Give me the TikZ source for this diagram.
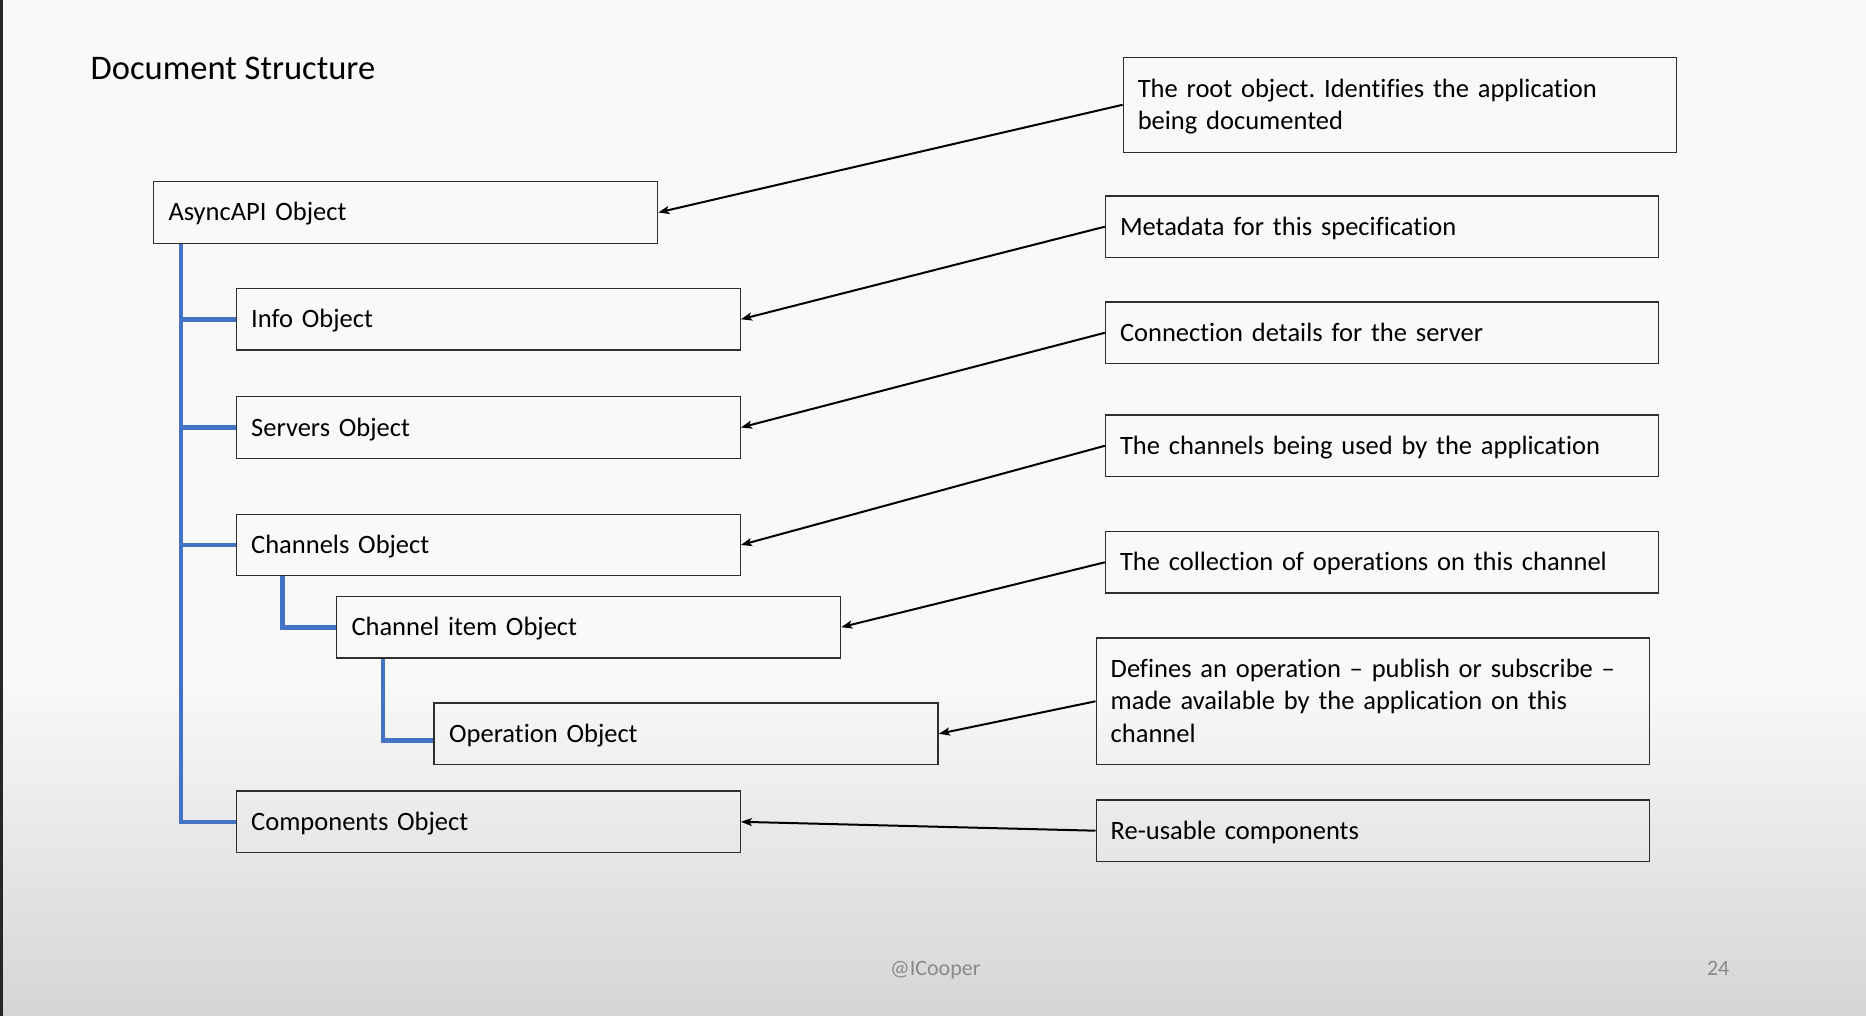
\documentclass[tikz,border=0pt]{standalone}
\usepackage{fontspec}
\setmainfont{Carlito}[Ligatures=NoCommon]
\usetikzlibrary{arrows.meta,calc}
\definecolor{treeblue}{HTML}{4472C4}
\definecolor{bgtop}{HTML}{F9F9F8}
\definecolor{bgbot}{HTML}{D5D5D5}
\definecolor{boxline}{HTML}{2E2E2E}
\definecolor{footgray}{HTML}{8A8A8A}
\frenchspacing
\begin{document}
\begin{tikzpicture}[x=1pt,y=-1pt,
  obj/.style={draw=boxline, line width=1.4pt, rectangle, minimum width=504pt, minimum height=61.5pt,
    text width=474pt, inner xsep=15pt, inner ysep=0pt, text height=17pt, text depth=0pt, align=left,
    font=\fontsize{26.5}{32.5}\selectfont},
  desc/.style={obj, minimum width=553pt, text width=524pt, inner xsep=14.5pt},
  arr/.style={draw=black, line width=2pt, -{Stealth[length=11pt,width=8pt,inset=2.5pt]}},
  tree/.style={draw=treeblue, line width=4.6pt}
]
\useasboundingbox (0,0) rectangle (1866,1016);
% background
\fill[bgtop] (0,0) rectangle (1866,680);
\shade[top color=bgtop, bottom color=bgbot] (0,680) rectangle (1866,1016);
\fill[black!85] (0,0) rectangle (3,1016);

% title
\node[anchor=base west, inner sep=0pt, font=\fontsize{34.5}{40}\selectfont] (title) at (90.5,80) {Document Structure};

% object boxes
\node[obj] (async)   at (405.5,212.5) {AsyncAPI Object};
\node[obj] (info)    at (488.2,319.3) {Info Object};
\node[obj] (servers) at (488.2,427.5) {Servers Object};
\node[obj] (chan)    at (488.2,545.0) {Channels Object};
\node[obj] (chitem)  at (588.5,627.2) {Channel item Object};
\node[obj] (oper)    at (686.1,733.8) {Operation Object};
\node[obj] (comp)    at (488.2,821.8) {Components Object};

% description boxes
\node[desc, minimum height=95pt, text depth=32.5pt] (droot) at (1399.8,104.8)
  {The root object. Identifies the application\\being documented};
\node[desc] (dmeta) at (1382,226.7) {Metadata for this specification};
\node[desc] (dconn) at (1382,332.8) {Connection details for the server};
\node[desc] (dchan) at (1382,445.8) {The channels being used by the application};
\node[desc] (dcoll) at (1382,562.3) {The collection of operations on this channel};
\node[desc, minimum height=126.7pt, text depth=65pt] (ddef) at (1372.7,701.3)
  {Defines an operation -- publish or subscribe --\\made available by the application on this\\channel};
\node[desc] (dreuse) at (1372.7,830.7) {Re-usable components};

% arrows
\draw[arr] (droot.west) -- (async.east);
\draw[arr] (dmeta.west) -- (info.east);
\draw[arr] (dconn.west) -- (servers.east);
\draw[arr] (dchan.west) -- (chan.east);
\draw[arr] (dcoll.west) -- (chitem.east);
\draw[arr] (ddef.west) -- (oper.east);
\draw[arr] (dreuse.west) -- (comp.east);

% tree connectors
\coordinate (trunk) at ($(async.south west)+(28,0)$);
\coordinate (sub1) at ($(chan.south west)+(47,0)$);
\coordinate (sub2) at ($(chitem.south west)+(47,0)$);
\coordinate (opin) at ($(oper.west)+(0,6.5)$);
\draw[tree] (trunk) |- (comp.west);
\draw[tree] (trunk |- info.west) -- (info.west);
\draw[tree] (trunk |- servers.west) -- (servers.west);
\draw[tree] (trunk |- chan.west) -- (chan.west);
\draw[tree] (sub1) |- (chitem.west);
\draw[tree] (sub2) |- (opin);

% footer
\node[anchor=base west, inner sep=0pt, text=footgray, font=\fontsize{22}{26}\selectfont] (author) at (890,975) {@ICooper};
\node[anchor=base west, inner sep=0pt, text=footgray, font=\fontsize{22}{26}\selectfont] (page) at (1706.8,975) {24};
\end{tikzpicture}
\end{document}
